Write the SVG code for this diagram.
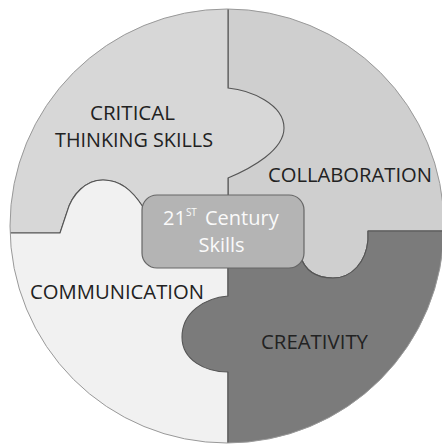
<svg xmlns="http://www.w3.org/2000/svg" width="442" height="447" viewBox="0 0 442 447">
<style>
.piece{stroke:#555;stroke-width:1.1;stroke-linejoin:round}
.lbl{font-family:"Open Sans","Noto Sans","Liberation Sans",sans-serif;font-size:20px;fill:#222;text-anchor:middle}
.ctr{font-family:"Open Sans","Noto Sans","Liberation Sans",sans-serif;font-size:20px;fill:#fafafa}
</style>
<defs>
<clipPath id="disc"><circle cx="227" cy="226" r="217"/></clipPath>
</defs>
<rect width="442" height="447" fill="#fff"/>
<g clip-path="url(#disc)">
<g id="collaboration">
<path class="piece" fill="#cfcfcf" d="M228,-5 H450 V231 H368 V240 C366,262 352,278 333,278 C318,278 305,272 300,255 V231 H228 Z"/>
</g>
<g id="critical-thinking">
<path class="piece" fill="#d7d7d7" d="M-5,-5 H228 V88 C250,90 284,104 284,128 C284,150 252,168 228,178 V215 H143 V207 C132,190 120,180 103,180 C86,180 72,194 67,212 L60,233 H-5 Z"/>
</g>
<g id="communication">
<path class="piece" fill="#f1f1f1" d="M-5,233 H60 L67,212 C72,194 86,180 103,180 C120,180 132,190 143,207 V215 H228 V450 H-5 Z"/>
</g>
<g id="creativity">
<path class="piece" fill="#7b7b7b" d="M228,231 H300 V255 C305,272 318,278 333,278 C352,278 366,262 368,240 V231 H450 V450 H228 V372 C205,372 182,360 182,337 C182,312 205,298 228,296 Z"/>
</g>
</g>
<circle cx="227" cy="226" r="217" fill="none" stroke="#999" stroke-width="1"/>
<g id="center">
<rect x="142" y="195" width="162" height="73" rx="15" fill="#b4b4b4" stroke="#666" stroke-width="1.2"/>
<text class="ctr" x="163" y="225">21<tspan font-size="10" dy="-9">ST</tspan><tspan x="205" y="225">Century</tspan></text>
<text class="ctr" x="221.5" y="252" text-anchor="middle">Skills</text>
</g>
<g id="labels">
<text class="lbl" x="132.5" y="120" textLength="85" lengthAdjust="spacingAndGlyphs">CRITICAL</text>
<text class="lbl" x="134" y="147" textLength="158" lengthAdjust="spacingAndGlyphs">THINKING SKILLS</text>
<text class="lbl" x="350" y="182" textLength="164" lengthAdjust="spacingAndGlyphs">COLLABORATION</text>
<text class="lbl" x="117" y="299" textLength="174" lengthAdjust="spacingAndGlyphs">COMMUNICATION</text>
<text class="lbl" x="314.5" y="349" textLength="107" lengthAdjust="spacingAndGlyphs">CREATIVITY</text>
</g>
</svg>
